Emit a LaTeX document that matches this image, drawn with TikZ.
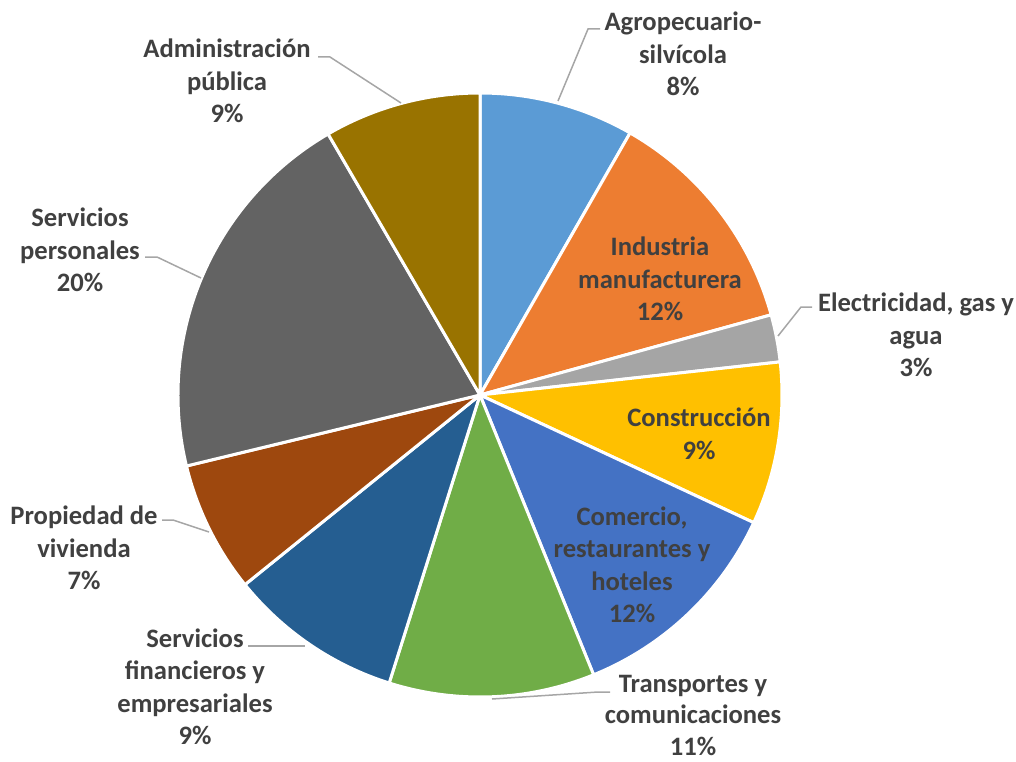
\documentclass[tikz,border=0pt]{standalone}
\usepackage{fontspec}
\setmainfont{Carlito}
\definecolor{c1}{HTML}{5B9BD5}
\definecolor{c2}{HTML}{ED7D31}
\definecolor{c3}{HTML}{A5A5A5}
\definecolor{c4}{HTML}{FFC000}
\definecolor{c5}{HTML}{4472C4}
\definecolor{c6}{HTML}{70AD47}
\definecolor{c7}{HTML}{255E91}
\definecolor{c8}{HTML}{9E480E}
\definecolor{c9}{HTML}{636363}
\definecolor{c10}{HTML}{997300}
\definecolor{txt}{HTML}{404040}
\definecolor{ldr}{HTML}{A6A6A6}
\begin{document}
\begin{tikzpicture}[x=1pt,y=-1pt,
  lbl/.style={font=\fontsize{26.6}{32.5}\selectfont\bfseries, text=txt, align=center, inner sep=0pt},
  leader/.style={draw=ldr, line width=1.5pt},
  pieslice/.style={draw=white, line width=3pt, line join=round}]
\useasboundingbox (0,0) rectangle (1016,762);
\coordinate (O) at (480,395);
\newcommand\mySlice[3]{\filldraw[pieslice, fill=#3] (O) -- ++(#1:302) arc[start angle=#1, end angle=#2, radius=302] -- cycle;}
\mySlice{-90}{-60.2}{c1}
\mySlice{-60.2}{-15.4}{c2}
\mySlice{-15.4}{-6.3}{c3}
\mySlice{-6.3}{25}{c4}
\mySlice{25}{67.9}{c5}
\mySlice{67.9}{107.5}{c6}
\mySlice{107.5}{141.1}{c7}
\mySlice{141.1}{166.4}{c8}
\mySlice{166.4}{239.8}{c9}
\mySlice{239.8}{270}{c10}

\node[lbl] (agro) at (683,54) {Agropecuario-\\silvícola\\8\%};
\node[lbl] (ind) at (660,279) {Industria\\manufacturera\\12\%};
\node[lbl] (elec) at (916,335) {Electricidad, gas y\\agua\\3\%};
\node[lbl] (con) at (699,434) {Construcción\\9\%};
\node[lbl] (com) at (632,565) {Comercio,\\restaurantes y\\hoteles\\12\%};
\node[lbl, font=\fontsize{26.6}{31.5}\selectfont\bfseries] (tra) at (693,715) {Transportes y\\comunicaciones\\11\%};
\node[lbl] (fin) at (195,687) {Servicios\\financieros y\\empresariales\\9\%};
\node[lbl] (pro) at (84,548) {Propiedad de\\vivienda\\7\%};
\node[lbl] (per) at (80,250) {Servicios\\personales\\20\%};
\node[lbl] (adm) at (227,81) {Administración\\pública\\9\%};

\coordinate (agroA) at (558,101); \coordinate (agroB) at (588,29); \coordinate (agroC) at (600,29);
\coordinate (elecA) at (778,336); \coordinate (elecB) at (801,307); \coordinate (elecC) at (812,307);
\coordinate (admA) at (401,103); \coordinate (admB) at (330,57); \coordinate (admC) at (318,57);
\coordinate (perA) at (201,278); \coordinate (perB) at (157,257); \coordinate (perC) at (145,257);
\coordinate (proA) at (209,532); \coordinate (proB) at (173,520); \coordinate (proC) at (162,520);
\coordinate (finA) at (305,646); \coordinate (finC) at (248,646);
\coordinate (traA) at (492,699); \coordinate (traB) at (598,692); \coordinate (traC) at (610,692);

\draw[leader] (agroA) -- (agroB) -- (agroC);
\draw[leader] (elecA) -- (elecB) -- (elecC);
\draw[leader] (admA) -- (admB) -- (admC);
\draw[leader] (perA) -- (perB) -- (perC);
\draw[leader] (proA) -- (proB) -- (proC);
\draw[leader] (finA) -- (finC);
\draw[leader] (traA) -- (traB) -- (traC);
\end{tikzpicture}
\end{document}
